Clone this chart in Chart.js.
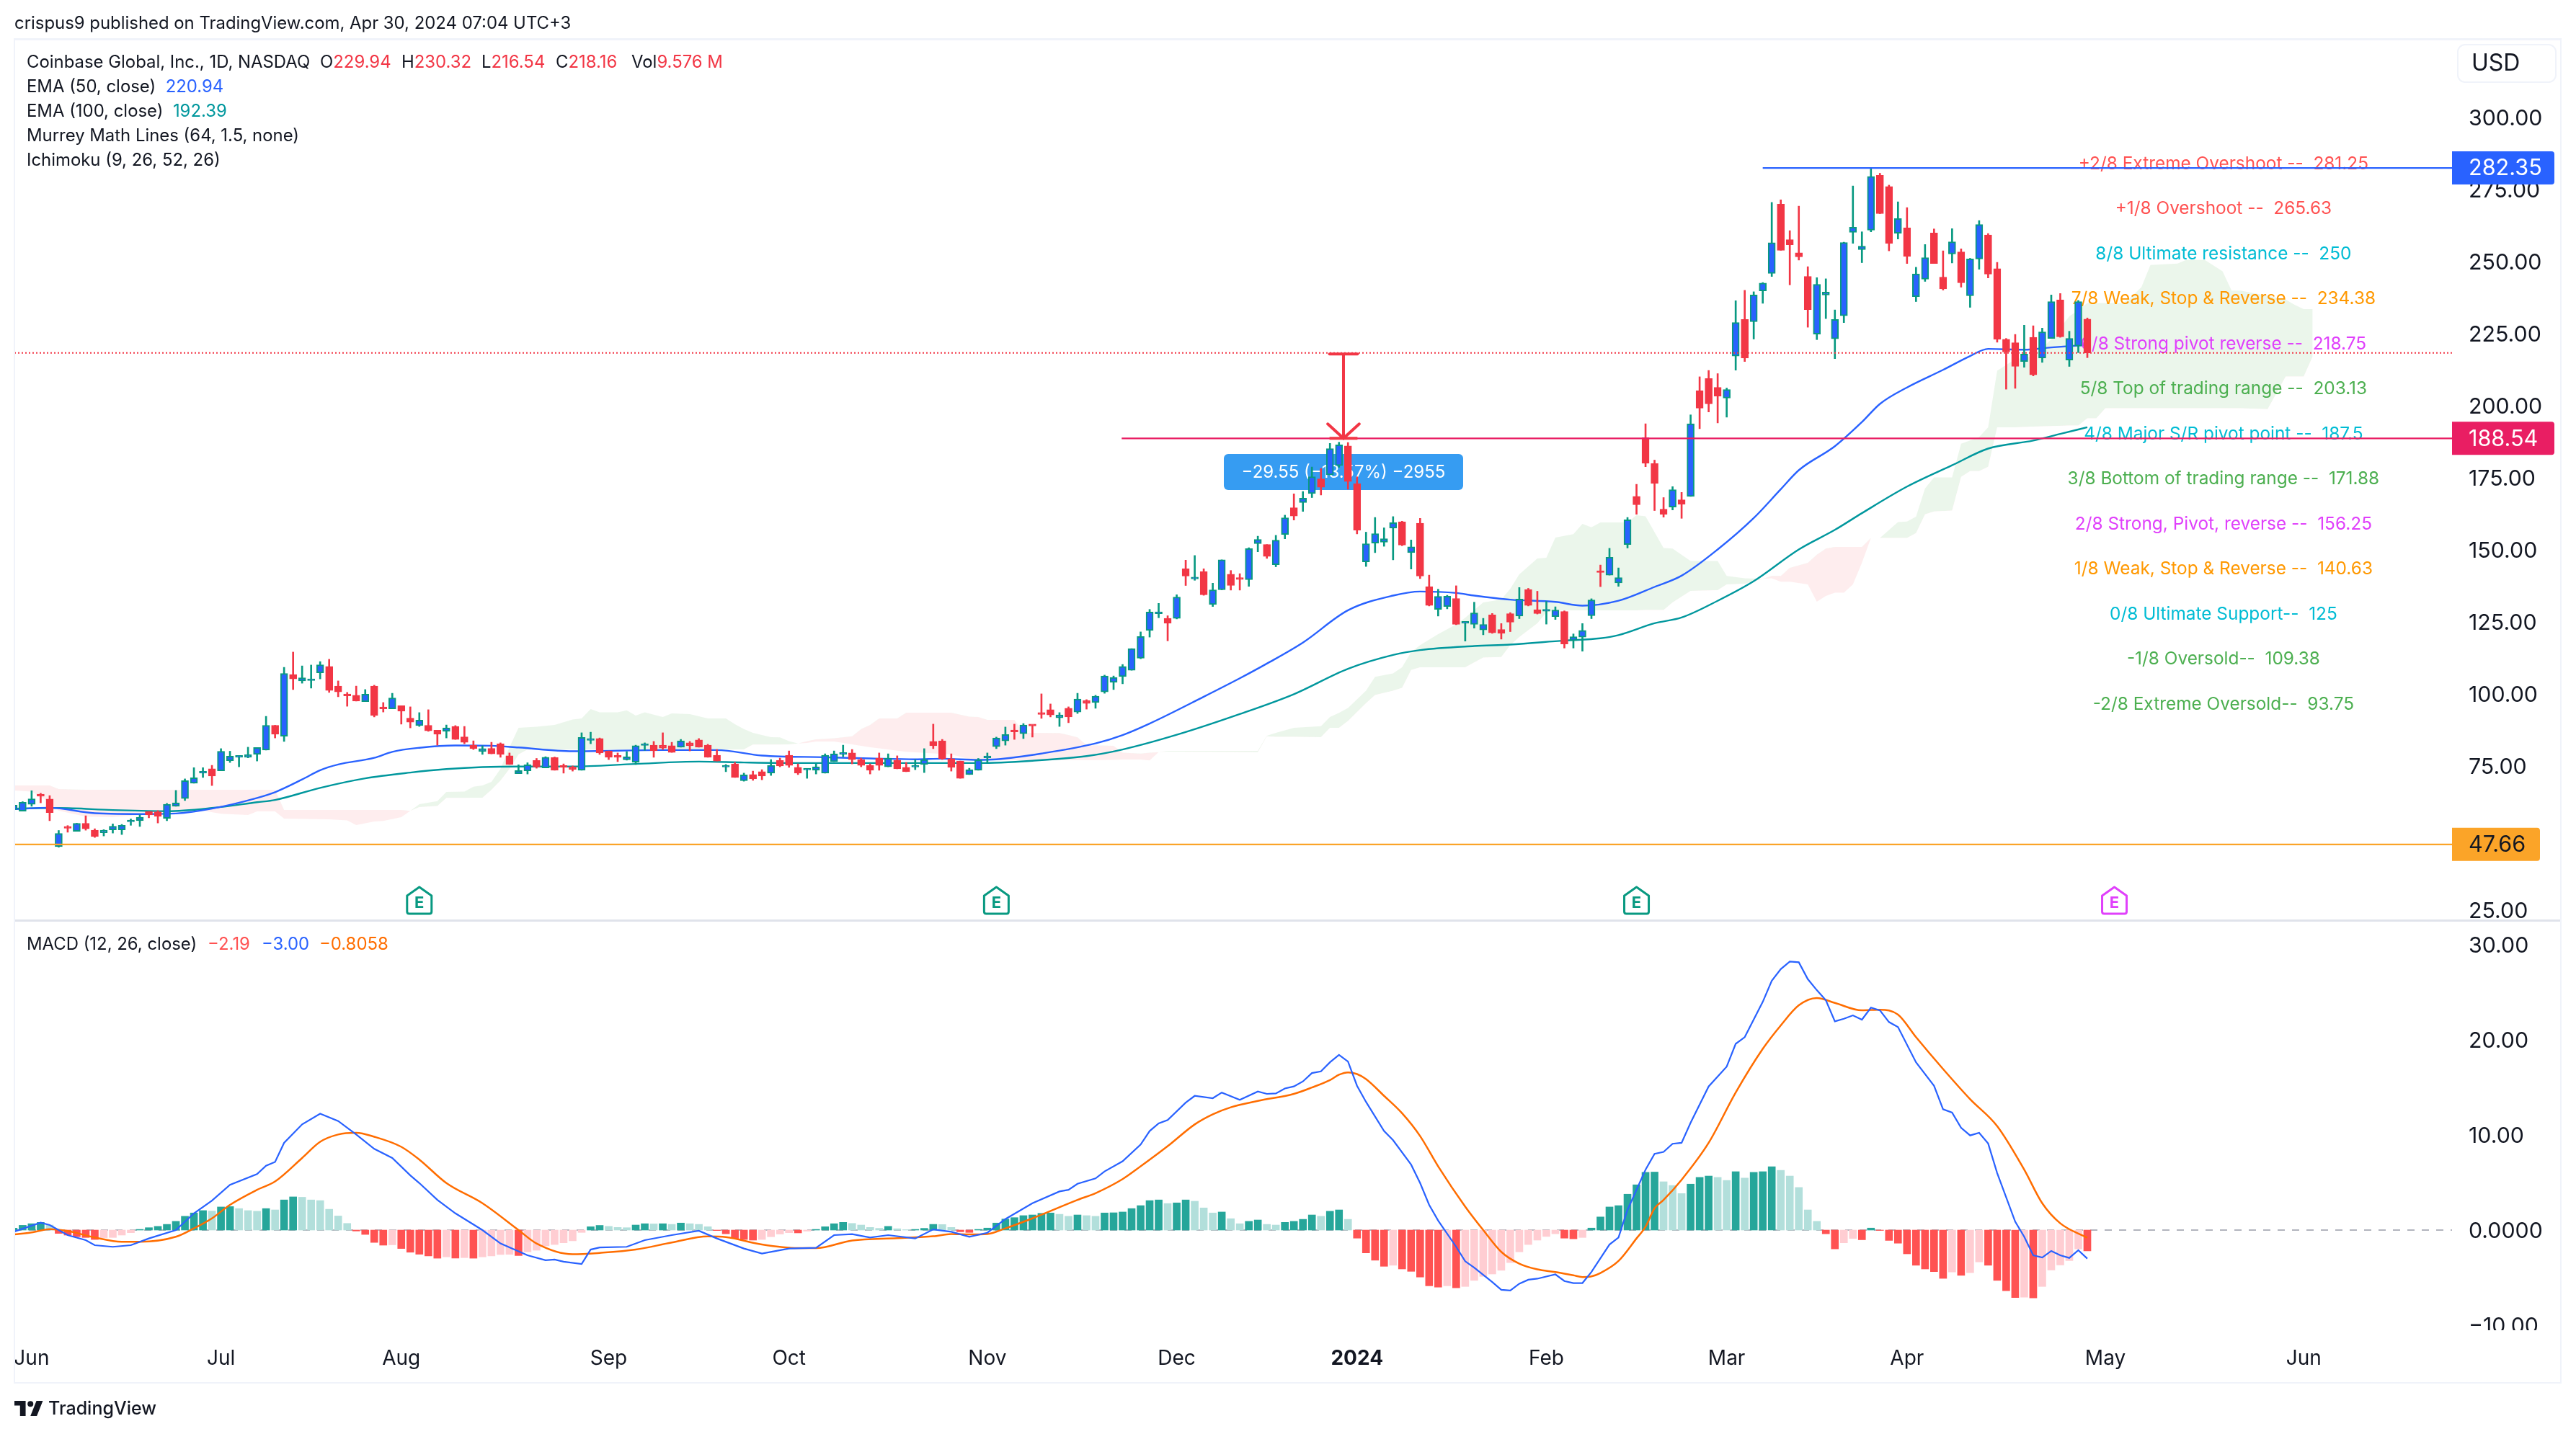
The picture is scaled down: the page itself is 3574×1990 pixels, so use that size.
<!DOCTYPE html>
<html><head><meta charset="utf-8">
<script src="https://cdn.jsdelivr.net/npm/chart.js@4"></script>
<style>
html,body{margin:0;padding:0;background:#fff;width:3574px;height:1990px;overflow:hidden}
body{position:relative;font-family:Inter,"Liberation Sans",sans-serif;color:#131722}
canvas{position:absolute;left:0}
.t{position:absolute;white-space:pre;font-size:23.9px;line-height:30px;z-index:5}
.r{position:absolute;z-index:4}
</style></head><body>
<canvas id="main" width="3574" height="1278" style="top:0"></canvas>
<canvas id="osc" width="3574" height="712" style="top:1278px"></canvas>
<div class="r" style="left:20px;top:53px;width:3534px;height:3px;background:#F0F3FA"></div>
<div class="r" style="left:20px;top:1276px;width:3534px;height:3px;background:#E0E3EB"></div>
<div class="r" style="left:20px;top:1918px;width:3534px;height:2px;background:#F0F3FA"></div>
<div class="r" style="left:19px;top:53px;width:2px;height:1867px;background:#F0F3FA"></div>
<div class="r" style="left:3552px;top:53px;width:2px;height:1867px;background:#F0F3FA"></div>
<div class="r" style="left:3404px;top:1846px;width:146px;height:16px;background:#fff"></div>

<div class="t" style="left:20px;top:17px">crispus9 published on TradingView.com, Apr 30, 2024 07:04 UTC+3</div>
<div class="t" style="left:37px;top:71px">Coinbase Global, Inc., 1D, NASDAQ</div>
<div class="t" style="left:444px;top:71px">O<span style="color:#F23645">229.94</span></div>
<div class="t" style="left:557px;top:71px">H<span style="color:#F23645">230.32</span></div>
<div class="t" style="left:668px;top:71px">L<span style="color:#F23645">216.54</span></div>
<div class="t" style="left:771px;top:71px">C<span style="color:#F23645">218.16</span></div>
<div class="t" style="left:876px;top:71px">Vol<span style="color:#F23645">9.576 M</span></div>
<div class="t" style="left:37px;top:105px">EMA (50, close)  <span style="color:#2962FF">220.94</span></div>
<div class="t" style="left:37px;top:139px">EMA (100, close)  <span style="color:#00979D">192.39</span></div>
<div class="t" style="left:37px;top:173px">Murrey Math Lines (64, 1.5, none)</div>
<div class="t" style="left:37px;top:207px">Ichimoku (9, 26, 52, 26)</div>
<div class="t" style="left:37px;top:1295px">MACD (12, 26, close)</div>
<div class="t" style="left:288px;top:1295px;color:#FF5252">−2.19</div>
<div class="t" style="left:363px;top:1295px;color:#2962FF">−3.00</div>
<div class="t" style="left:443px;top:1295px;color:#FF6D00">−0.8058</div>
<svg style="position:absolute;left:20px;top:1942px" width="40" height="26" viewBox="0 0 36 22"><path fill="#131722" d="M14 20H7V7H0V1h14v19zM28 20h-8l7.5-19h8L28 20z"/><circle cx="20" cy="5" r="3.6" fill="#131722"/></svg>
<div class="t" style="left:67px;top:1939px;font-weight:500;font-size:25px">TradingView</div>

<script>
/* candles: one value per trading day */
const opens=[59.8,59.2,61.6,65.1,63.4,46.9,53.7,52.2,55.0,52.6,
51.7,52.7,52.7,55.5,55.9,59.1,59.0,56.7,60.9,63.6,
68.9,72.4,73.9,73.2,76.7,77.9,77.9,78.9,80.4,89.0,
85.2,106.6,104.4,104.5,107.2,109.4,102.6,99.5,99.4,97.2,
102.6,95.1,94.7,95.8,91.5,88.9,89.0,87.3,86.9,88.6,
85.0,82.1,79.9,81.0,82.6,78.4,72.2,73.2,76.8,74.2,
77.8,74.6,74.6,73.4,83.8,84.4,80.1,78.3,77.0,76.2,
82.0,82.1,82.1,81.9,81.4,82.9,83.9,82.1,78.6,74.5,
75.6,69.8,71.9,72.9,72.4,76.8,78.6,74.4,73.5,73.4,
72.4,76.4,78.9,79.4,77.1,75.1,77.6,74.6,76.9,74.4,
74.5,75.4,83.4,83.6,77.4,76.6,71.9,73.4,77.7,81.6,
83.6,87.0,86.1,89.0,93.1,94.4,91.6,94.9,93.6,97.6,
96.9,100.6,103.9,105.9,108.1,112.3,121.9,127.7,126.1,126.1,
143.3,139.8,142.3,130.9,136.0,141.4,140.0,139.5,152.0,151.7,
144.7,155.2,164.5,166.3,169.4,174.5,175.9,179.1,185.9,172.8,
145.7,152.2,152.5,157.4,159.6,148.9,159.1,137.1,129.2,130.2,
133.0,124.4,124.0,122.1,127.3,122.2,127.7,126.9,136.1,129.1,
128.6,126.7,128.5,118.4,119.6,127.0,142.3,141.1,138.4,151.7,
168.4,188.8,179.8,164.0,164.7,167.2,168.4,205.1,209.3,206.2,
202.5,217.1,229.8,229.0,239.7,245.8,269.8,257.5,252.9,244.7,
224.7,238.3,223.1,231.1,260.0,254.0,260.8,279.8,275.9,259.7,
261.6,237.7,243.8,259.8,244.5,252.5,253.2,238.0,250.8,259.1,
247.4,222.9,221.7,215.2,223.6,216.4,223.2,236.6,215.7,220.6,
229.94];
const highs=[61.3,62.5,66.3,65.4,64.6,52.5,54.2,55.0,57.6,53.1,
52.8,54.8,54.6,56.5,57.9,59.1,59.4,61.9,66.4,70.4,
74.3,74.3,75.1,80.9,80.0,78.4,81.4,81.3,92.1,89.0,
109.1,114.4,109.6,109.9,111.1,111.9,104.4,100.4,102.6,101.4,
102.9,96.9,100.1,95.8,95.4,93.4,94.4,87.3,89.1,88.9,
88.6,83.6,81.9,83.1,82.9,79.4,75.3,76.0,77.5,78.1,
78.0,75.6,74.9,86.4,86.6,84.6,80.1,79.4,79.9,82.1,
82.9,83.4,86.4,83.1,84.1,83.4,84.4,82.4,80.6,75.4,
76.1,72.4,73.1,73.6,77.1,77.6,80.1,75.6,73.9,75.6,
79.1,80.1,82.1,80.6,77.6,75.6,79.4,79.1,78.4,76.1,
77.1,80.9,89.4,84.1,79.1,76.6,74.1,77.5,79.4,84.9,
88.4,89.4,89.6,89.0,99.9,96.4,93.4,95.4,100.1,97.9,
99.4,106.4,106.1,110.1,115.6,121.4,129.2,131.3,127.0,134.3,
146.3,147.9,143.3,138.3,146.4,142.7,141.6,150.6,154.6,151.7,
154.9,161.9,169.3,170.1,178.6,178.1,186.8,187.2,187.1,175.2,
156.0,161.1,157.5,161.4,159.8,153.3,160.8,141.1,136.2,134.1,
137.4,124.7,131.7,126.1,127.8,124.3,128.1,136.8,136.5,135.5,
132.0,130.1,128.7,120.7,124.3,132.9,144.6,150.4,143.6,161.1,
172.6,193.6,181.0,168.0,171.8,169.8,196.7,209.9,212.1,211.0,
206.0,236.3,239.9,239.4,242.6,270.4,271.3,260.6,269.1,248.1,
244.3,243.9,233.1,256.6,276.1,260.2,282.35,280.5,276.4,270.6,
268.6,247.9,255.8,261.2,253.6,261.3,254.3,251.0,264.1,259.6,
249.6,223.2,224.6,227.8,227.6,226.8,238.3,238.8,225.7,236.4,
230.32];
const lows=[59.8,59.2,60.9,62.1,55.9,46.7,51.9,52.2,52.6,50.1,
50.6,51.6,51.1,54.3,53.9,56.9,55.1,55.9,60.9,62.9,
68.9,70.9,68.1,73.2,76.1,74.6,77.7,76.6,80.4,84.6,
83.4,101.4,103.6,101.9,105.1,100.4,98.9,95.6,97.4,97.2,
91.9,93.6,94.7,89.4,88.1,88.6,86.9,82.1,84.6,84.1,
82.6,80.6,78.9,79.1,77.9,75.4,72.2,72.1,74.1,74.2,
73.4,72.4,73.1,73.4,82.6,78.9,77.1,76.4,76.9,75.4,
80.3,77.9,80.6,79.6,81.4,80.1,81.4,77.9,76.6,72.9,
70.9,69.6,69.9,70.1,71.6,74.6,74.4,71.9,70.6,72.1,
72.4,76.4,78.1,75.6,74.6,72.1,73.4,74.6,73.9,72.9,
73.6,72.6,80.9,77.1,73.1,70.6,71.9,73.4,75.9,80.9,
82.1,84.1,84.4,84.9,91.4,91.9,88.6,89.9,93.1,94.6,
94.9,100.1,101.4,103.4,108.1,112.1,119.6,126.3,118.3,125.9,
137.5,139.3,134.1,130.2,136.0,135.9,135.9,137.2,149.2,146.9,
144.0,153.7,160.2,163.2,168.0,168.9,175.9,178.5,170.9,155.4,
144.1,148.9,151.1,146.4,151.3,143.2,139.9,130.4,126.9,129.4,
123.9,118.2,122.7,120.4,120.9,118.9,121.5,126.0,130.4,127.6,
124.1,125.7,115.8,115.8,114.7,126.0,137.1,141.1,137.2,150.5,
162.2,178.7,163.5,161.2,163.7,160.8,168.4,191.9,197.7,193.9,
195.9,212.2,215.2,223.0,235.4,244.7,253.8,241.8,250.4,227.1,
222.8,230.1,216.2,228.7,256.2,249.5,260.2,266.5,253.6,257.7,
249.2,236.0,243.0,249.2,240.0,249.4,241.0,234.0,247.2,244.2,
221.9,205.6,205.9,213.2,210.2,214.9,223.2,223.6,213.5,218.3,
216.54];
const closes=[61.3,62.3,63.5,64.4,58.7,51.5,53.3,55.0,53.1,50.4,
52.6,54.0,54.3,55.9,57.1,57.9,57.4,61.6,62.1,69.8,
70.8,72.9,71.4,80.0,78.3,78.4,78.8,81.3,89.0,85.9,
107.0,105.1,105.5,104.9,110.0,101.1,100.6,99.2,97.4,99.8,
92.4,94.7,98.5,93.9,90.1,90.8,87.1,85.9,88.1,84.1,
83.1,80.9,80.9,79.1,78.9,75.4,73.3,75.3,74.5,77.9,
73.4,74.4,73.7,84.8,84.1,79.4,77.9,77.9,78.1,81.9,
82.4,80.2,81.1,79.6,83.6,81.9,81.4,77.9,76.6,74.9,
70.9,71.8,70.4,71.4,75.1,74.9,75.1,72.4,73.8,74.6,
78.6,79.1,79.5,77.1,75.1,73.4,75.1,77.6,73.9,72.9,
74.9,77.1,81.9,77.4,74.4,70.6,73.6,77.0,78.0,84.6,
85.8,86.7,89.1,88.8,92.8,92.6,92.6,91.9,98.1,96.6,
99.1,106.1,105.6,109.4,115.6,119.8,128.3,128.1,124.4,133.5,
140.8,140.2,134.3,136.0,146.4,137.5,139.6,150.3,153.5,147.6,
153.2,161.0,161.6,167.8,175.2,171.6,185.0,186.3,173.6,156.7,
152.0,155.5,153.7,159.3,151.5,150.9,140.8,130.6,133.7,133.8,
124.0,124.7,128.0,124.0,121.1,120.9,124.8,132.8,130.6,127.8,
128.9,129.0,117.2,119.7,121.9,132.5,142.0,147.3,140.2,160.3,
165.5,179.9,172.9,162.2,170.7,165.7,193.6,199.0,200.5,203.2,
205.5,228.7,216.4,238.3,242.4,256.4,253.8,255.7,251.5,233.2,
242.0,239.3,229.8,256.5,261.8,255.2,279.4,266.5,256.2,264.8,
251.7,245.6,251.2,249.2,240.4,256.7,242.5,250.8,262.7,245.5,
222.9,218.5,213.5,217.8,210.6,225.5,236.0,223.8,223.2,236.0,
218.16];

/* indicators: [bar number, value] read at the visible turning points */
const ema50=[[0,59.9],[4,60.4],[9,58.5],[15,58.2],[18,58.4],[22,60.1],[27,63.8],[29,65.8],[32,70.2],[34,73.4],[36,75.4],[40,77.7],[42,79.8],[45,81.2],[49,82.0],[53,81.9],[56,81.3],[62,80.0],[72,80.4],[78,80.4],[83,78.5],[90,77.9],[95,77.5],[100,77.2],[103,77.4],[107,77.0],[109,77.2],[114,79.2],[120,82.7],[123,85.6],[126,89.6],[132,98.9],[136,105.3],[139,110.4],[143,117.7],[148,128.9],[153,134.0],[156,135.4],[160,134.9],[162,134.0],[166,132.6],[171,131.8],[174,130.5],[178,132.2],[182,137.0],[185,140.9],[189,150.0],[193,160.9],[196,170.9],[198,177.5],[202,185.8],[205,194.2],[207,200.5],[210,206.2],[214,212.3],[217,217.1],[219,219.6],[223,219.3],[226,220.1],[230,220.94]];
const ema100=[[0,60.1],[5,60.3],[11,59.6],[17,59.2],[22,60.3],[27,62.3],[29,63.1],[34,67.3],[39,70.6],[44,72.6],[48,73.8],[52,74.5],[56,74.7],[62,74.7],[69,75.6],[76,76.4],[81,76.1],[87,75.9],[99,75.9],[107,75.9],[113,76.7],[119,78.3],[123,80.6],[129,85.7],[136,92.9],[142,99.8],[148,108.6],[153,113.4],[156,115.1],[162,116.5],[166,117.0],[172,118.4],[176,119.2],[178,120.3],[182,124.4],[185,126.4],[189,132.2],[193,139.0],[198,150.0],[202,156.8],[205,162.6],[210,171.8],[215,179.2],[219,185.0],[224,187.8],[227,190.1],[230,192.39]];
/* Ichimoku cloud: [bar number, leading span A, leading span B] */
const cloud=[[0,66.4,68.1],[2,66.0,68.1],[4,62.3,68.1],[5,59.4,66.9],[8,57.3,66.6],[11,57.1,66.6],[14,57.9,66.6],[18,58.9,66.6],[21,59.4,66.6],[23,58.3,66.6],[26,57.9,66.6],[27,59.1,66.6],[29,59.1,66.6],[30,56.6,59.6],[35,56.4,59.6],[37,56.0,59.6],[38,54.4,59.6],[40,55.6,59.6],[41,55.8,59.6],[43,57.1,59.6],[44,59.3,59.3],
[45,61.6,60.6],[47,62.7,61.0],[48,65.9,63.8],[50,66.0,63.8],[51,67.7,63.9],[52,68.1,63.9],[53,69.4,66.6],[54,73.9,69.8],[55,81.4,73.9],[56,88.1,78.9],[57,88.3,80.6],[58,88.5,80.6],[60,89.1,80.6],[62,91.0,80.6],[63,91.4,80.6],[64,94.6,80.6],[65,93.5,80.6],[67,93.5,80.6],[68,94.2,80.6],[69,92.4,80.6],[70,93.5,80.6],[72,91.9,80.6],[73,93.1,80.6],[75,92.9,80.6],[77,91.4,80.6],[79,91.4,80.6],[80,89.4,80.6],[81,87.7,80.6],[82,86.4,82.3],[84,84.9,82.3],[85,84.8,82.3],[86,83.5,82.4],[87,82.7,82.7],
[88,82.9,83.5],[89,83.4,84.1],[91,83.4,84.5],[93,82.4,85.2],[94,81.9,87.7],[95,81.4,89.1],[96,81.0,91.4],[98,80.2,91.4],[99,79.8,93.4],[104,78.9,93.4],[106,77.3,92.0],[107,77.0,91.9],[108,76.9,90.9],[111,76.9,90.9],[112,76.9,86.4],[116,76.9,86.3],[117,76.9,85.6],[118,76.9,84.8],[119,76.9,82.1],[122,77.0,81.9],[123,77.1,79.5],[125,77.1,79.2],[126,76.8,79.5],[127,79.7,79.7],
[128,80.1,79.9],[138,80.1,79.7],[139,85.4,85.2],[140,86.4,85.0],[142,88.1,85.0],[145,88.7,84.9],[146,91.9,88.1],[147,93.3,88.1],[148,95.0,90.5],[150,101.0,96.7],[151,105.8,99.5],[153,107.0,101.0],[154,109.1,102.0],[155,114.4,108.2],[156,116.8,109.1],[158,120.6,109.1],[160,124.0,109.1],[161,126.3,109.1],[163,131.6,112.5],[165,132.6,112.7],[166,136.4,116.8],[167,141.4,119.6],[169,146.9,124.4],[170,147.1,128.2],[171,154.1,128.9],[173,155.3,128.9],[174,158.9,128.9],[175,157.7,128.9],[176,159.4,128.9],[179,159.4,128.9],[180,161.9,128.9],[181,161.5,129.0],[183,150.5,129.0],[184,150.3,131.6],[186,146.0,135.6],[189,146.0,135.9],[190,140.8,137.9],[192,140.0,138.1],[194,139.8,139.8],
[195,140.0,140.8],[196,138.8,140.8],[197,138.8,143.6],[199,137.9,145.4],[200,131.9,148.2],[201,133.9,150.3],[202,135.0,150.9],[203,135.0,150.9],[204,137.9,150.9],[205,145.4,150.9],[206,154.0,154.0],
[207,154.0,154.0],[209,159.5,154.0],[210,159.7,154.0],[211,161.4,155.7],[212,171.2,162.2],[213,175.0,163.2],[215,175.0,163.5],[216,186.7,175.2],[217,187.8,177.2],[218,189.0,177.2],[219,192.4,178.7],[220,212.0,192.4],[222,216.0,192.4],[224,217.0,192.6],[226,222.9,192.8],[228,230.9,193.0],[229,233.0,193.0],[230,235.5,195.5],[231,235.5,195.5],[232,235.5,199.0],[234,235.5,199.0],[235,238.0,199.0],[236,241.0,199.0],[237,248.7,199.0],[240,249.2,199.0],[241,250.5,199.0],[243,250.5,199.0],[245,246.5,199.0],[246,239.8,199.0],[247,239.8,199.0],[250,238.0,198.7],[252,236.7,210.0],[253,234.9,210.0],[254,233.4,210.0],[255,233.4,217.0]];

const macdHist=[.2,.5,.67,.81,.53,-.35,-.53,-.7,-.78,-.99,
-.8,-.78,-.53,-.28,.07,.25,.39,.6,.92,1.45,
1.8,2.05,2.0,2.43,2.47,2.26,2.05,1.98,2.26,2.12,
3.17,3.49,3.45,3.17,3.1,2.19,1.48,.7,-.1,-.46,
-1.3,-1.59,-1.55,-1.94,-2.33,-2.54,-2.72,-2.96,-2.82,-2.95,
-2.9,-2.96,-2.82,-2.72,-2.57,-2.55,-2.68,-2.29,-2.12,-1.66,
-1.52,-1.34,-1.13,-.25,.35,.49,.39,.28,.25,.53,
.67,.65,.67,.6,.74,.67,.6,.35,-.05,-.39,
-.88,-.99,-1.06,-.99,-.7,-.42,-.28,-.3,-.11,.07,
.35,.67,.81,.7,.53,.28,.18,.39,.14,.04,
.07,.18,.6,.58,.28,-.18,-.25,.07,.21,.74,
1.16,1.31,1.52,1.59,1.76,1.8,1.66,1.45,1.59,1.52,
1.45,1.8,1.82,1.9,2.26,2.57,3.1,3.17,2.79,2.86,
3.17,3.03,2.33,1.8,1.9,1.2,.67,.92,1.06,.6,
.53,.81,.92,1.13,1.59,1.45,1.98,2.12,1.13,-.85,
-2.4,-3.17,-3.81,-3.7,-4.09,-4.34,-4.94,-5.86,-6,-5.86,
-6.07,-5.93,-5.29,-4.87,-4.62,-4.23,-3.42,-2.29,-1.52,-1.06,
-.67,-.39,-.85,-.92,-.78,.21,1.38,2.43,2.57,3.77,
4.76,6.07,6.1,5.08,4.69,3.84,4.83,5.54,5.68,5.54,
5.22,6.14,5.47,6.07,6.14,6.67,6.28,5.68,4.48,2.12,
.92,-.39,-1.98,-1.34,-.88,-1.02,.21,-.04,-1.09,-1.38,
-2.5,-3.7,-4.09,-4.37,-5.08,-4.41,-4.76,-4.48,-3.35,-3.7,
-5.29,-6.38,-7.09,-7.05,-7.13,-5.93,-4.2,-3.67,-3.21,-1.98,
-2.19];
const macdLine=[[0,-.18],[3,.78],[4,.53],[6,-.53],[8,-1.06],[9,-1.59],[11,-1.76],[13,-1.59],[15,-.88],[18,0],[20,1.76],[22,3.1],[24,4.76],[27,5.89],[28,6.77],[29,7.16],[30,9.17],[32,11.11],[34,12.24],[36,11.46],[38,10.05],[40,8.54],[42,7.58],[44,5.75],[45,4.94],[47,3.17],[49,1.76],[52,0],[54,-1.41],[57,-2.65],[59,-3.17],[60,-3.1],[61,-3.32],[63,-3.56],[64,-2.05],[65,-1.83],[68,-1.76],[70,-1.06],[73,-.53],[76,-.07],[78,-.88],[81,-1.94],[83,-2.47],[86,-1.94],[89,-1.87],[91,-.53],[93,-.42],[95,-.78],[97,-.53],[100,-.88],[102,.07],[104,-.18],[106,-.7],[108,-.28],[110,1.16],[113,2.82],[116,4.06],[117,4.23],[118,4.87],[120,5.43],[121,6.17],[123,7.23],[125,8.99],[126,10.41],[127,11.22],[128,11.57],[130,13.4],[131,14.11],[133,13.86],[134,14.46],[136,13.69],[138,14.57],[139,14.32],[140,14.36],[141,14.89],[142,15.1],[143,15.63],[144,16.51],[145,16.68],[146,17.64],[147,18.41],[148,17.71],[149,15.17],[150,13.47],[152,10.41],[153,9.45],[155,6.88],[156,4.94],[157,2.65],[158,1],[160,-1.76],[161,-3.28],[162,-3.95],[164,-5.47],[165,-6.28],[166,-6.35],[167,-5.64],[168,-5.22],[169,-5.11],[171,-4.66],[172,-5.36],[173,-5.57],[174,-5.57],[175,-4.41],[177,-1.52],[178,-.78],[179,2.12],[181,6.35],[182,8.01],[183,8.22],[184,9.07],[185,9.17],[186,11.29],[188,15.1],[190,17.18],[191,19.58],[192,20.28],[194,23.99],[195,26.21],[196,27.44],[197,28.22],[198,28.15],[199,26.38],[200,25.22],[201,24.16],[202,21.94],[203,22.22],[204,22.57],[205,22.12],[206,23.39],[207,23.1],[208,21.87],[209,21.34],[211,17.64],[213,15.17],[214,12.7],[215,12.35],[216,10.76],[217,9.95],[218,10.23],[219,9.1],[220,6],[222,.88],[223,-.7],[224,-2.65],[225,-2.89],[226,-2.19],[227,-2.65],[228,-2.93],[229,-2.12],[230,-3.0]];
const signalLine=[[0,-.46],[2,-.25],[4,.1],[6,-.1],[9,-.78],[12,-1.23],[14,-1.23],[18,-.7],[20,.18],[22,1.23],[24,2.65],[27,4.23],[29,5.11],[32,7.58],[34,9.28],[36,10.05],[38,10.23],[40,9.81],[43,8.75],[45,7.41],[48,4.94],[52,2.82],[56,0],[58,-1.41],[62,-2.54],[65,-2.4],[69,-2.05],[73,-1.31],[77,-.67],[79,-.74],[83,-1.52],[87,-1.9],[89,-1.9],[93,-1.09],[98,-.85],[102,-.65],[104,-.42],[106,-.46],[108,-.42],[110,.18],[113,1.23],[118,3.17],[120,3.88],[123,5.36],[125,6.7],[128,8.82],[131,11.11],[133,12.17],[135,12.91],[138,13.58],[142,14.32],[144,14.99],[146,15.77],[147,16.33],[148,16.58],[149,16.4],[150,15.87],[152,14.11],[154,12.28],[156,9.88],[158,6.7],[161,2.47],[163,0],[165,-2.29],[167,-3.53],[169,-4.13],[171,-4.41],[173,-4.76],[174,-4.94],[175,-4.87],[176,-4.51],[178,-3.25],[180,-.88],[181,.35],[182,2.29],[183,3.17],[185,5.29],[188,9.17],[191,14.46],[194,19.05],[196,21.52],[198,23.63],[200,24.4],[202,23.88],[205,23.1],[207,23.17],[209,22.65],[211,20.28],[214,16.93],[217,13.76],[220,10.93],[223,6.35],[225,2.82],[227,.71],[230,-.81]];

/* axes and labels */
const priceTicks=[25,50,75,100,125,150,175,200,225,250,275,300];
const hiddenPriceTicks=[50];
const macdTicks=[-10,0,10,20,30];
const monthBars=[2,23,43,66,86,108,129,149,170,190,210,232,254];
const monthNames=["Jun","Jul","Aug","Sep","Oct","Nov","Dec","2024","Feb","Mar","Apr","May","Jun"];
const murreyLevels=[281.25,265.63,250,234.38,218.75,203.13,187.5,171.88,156.25,140.63,125,109.38,93.75];
const murreyTexts=["+2/8 Extreme Overshoot --  281.25","+1/8 Overshoot --  265.63","8/8 Ultimate resistance --  250","7/8 Weak, Stop & Reverse --  234.38","6/8 Strong pivot reverse --  218.75","5/8 Top of trading range --  203.13","4/8 Major S/R pivot point --  187.5","3/8 Bottom of trading range --  171.88","2/8 Strong, Pivot, reverse --  156.25","1/8 Weak, Stop & Reverse --  140.63","0/8 Ultimate Support--  125","-1/8 Oversold--  109.38","-2/8 Extreme Oversold--  93.75"];
const lastClose=218.16, highLevel=282.35, pivotLevel=188.54, lowLevel=47.66;
const earningsBars=[45,109,180,233];
const measureBar=147.5, measureTop=217.8, measureBottom=188.54;
const measureText="−29.55 (−13.57%) −2955";

/* view and style */
const xMin=.09, xMax=270.45;
const FONT='Inter, "Liberation Sans", sans-serif';
const UP='#089981', UPFILL='#2962FF', DOWN='#F23645';
const murreyColors=['#FF5252','#FF5252','#00BCD4','#FF9800','#E040FB','#4CAF50','#00BCD4','#4CAF50','#E040FB','#FF9800','#00BCD4','#4CAF50','#4CAF50'];
const xy=a=>a.map(p=>({x:p[0],y:p[1]}));
const bars=closes.map((c,i)=>i);
const line=(data,color,width,extra)=>Object.assign({type:'line',data,borderColor:color,borderWidth:width,pointRadius:0,fill:false,tension:0},extra||{});
const upOf=i=>closes[i]>=opens[i];

const cloudA=cloud.map(r=>({x:r[0],y:r[1]})), cloudB=cloud.map(r=>({x:r[0],y:r[2]}));
const IDX_WICK=4;
const mainSets=[
 line(cloudA,'rgba(0,0,0,0)',0,{order:100,fill:{target:1,above:'rgba(76,175,80,.115)',below:'rgba(242,54,69,.09)'}}),
 line(cloudB,'rgba(0,0,0,0)',0,{order:101}),
 line(xy(ema100),'#00979D',2.4,{order:91,cubicInterpolationMode:'monotone'}),
 line(xy(ema50),'#2962FF',2.4,{order:90,cubicInterpolationMode:'monotone'}),
 {type:'bar',order:80,grouped:false,barThickness:2,data:bars.map(i=>({x:i,y:[lows[i],highs[i]]})),
  backgroundColor:bars.map(i=>upOf(i)?UP:DOWN),borderWidth:0},
 {type:'bar',order:79,grouped:false,barThickness:10,minBarLength:2.5,data:bars.map(i=>({x:i,y:[opens[i],closes[i]]})),
  backgroundColor:bars.map(i=>upOf(i)?UPFILL:DOWN),borderColor:bars.map(i=>upOf(i)?UP:DOWN),borderWidth:2,borderSkipped:false},
 line([{x:xMin,y:lowLevel},{x:xMax,y:lowLevel}],'#FBA428',2.4,{order:60}),
 line([{x:xMin,y:lastClose},{x:xMax,y:lastClose}],DOWN,2,{order:60,borderDash:[2,3]}),
 line([{x:122.9,y:pivotLevel},{x:xMax,y:pivotLevel}],'#E91E63',2.4,{order:60}),
 line([{x:194,y:highLevel},{x:xMax,y:highLevel}],'#2962FF',2.4,{order:60}),
 line([{x:measureBar,y:measureTop},{x:measureBar,y:measureBottom}],DOWN,4,{order:50}),
 line([{x:measureBar-1.55,y:measureTop},{x:measureBar+1.55,y:measureTop}],DOWN,4,{order:50,borderCapStyle:'round'}),
 line([{x:measureBar-1.55,y:measureBottom},{x:measureBar+1.55,y:measureBottom}],DOWN,4,{order:50}),
 line([{x:measureBar-1.75,y:measureBottom+5},{x:measureBar,y:measureBottom},{x:measureBar+1.75,y:measureBottom+5}],DOWN,4,{order:50,borderCapStyle:'round'})
];

function roundRect(c,x,y,w,h,r){c.beginPath();c.roundRect(x,y,w,h,r);}
const underCandles={id:'underCandles',beforeDatasetDraw(chart,args){
  if(args.index!==IDX_WICK) return;
  const c=chart.ctx,{x,y}=chart.scales;
  c.save();
  c.font='24.4px '+FONT;c.textAlign='center';c.textBaseline='middle';
  murreyLevels.forEach((v,i)=>{c.fillStyle=murreyColors[i];c.fillText(murreyTexts[i],x.getPixelForValue(245.1),y.getPixelForValue(v)-10);});
  const cx=x.getPixelForValue(measureBar),cy=y.getPixelForValue(176.9);
  c.fillStyle='#369CF2';roundRect(c,cx-166,cy-25,332,50,6);c.fill();
  c.fillStyle='#fff';c.font='24px '+FONT;c.fillText(measureText,cx,cy+1);
  c.restore();
}};
const overlay={id:'overlay',afterDraw(chart){
  const c=chart.ctx,{x,y}=chart.scales,L=chart.chartArea.right;
  c.save();
  earningsBars.forEach((b,i)=>{
    const cx=x.getPixelForValue(b),col=i===3?'#E040FB':UP,t=1231,bot=1268,hw=17;
    c.strokeStyle=col;c.lineWidth=3;c.lineJoin='round';
    c.beginPath();c.moveTo(cx,t);c.lineTo(cx+hw,t+12);c.lineTo(cx+hw,bot-3);c.quadraticCurveTo(cx+hw,bot,cx+hw-3,bot);
    c.lineTo(cx-hw+3,bot);c.quadraticCurveTo(cx-hw,bot,cx-hw,bot-3);c.lineTo(cx-hw,t+12);c.closePath();c.stroke();
    c.fillStyle=col;c.font='bold 22px '+FONT;c.textAlign='center';c.textBaseline='middle';c.fillText('E',cx,t+22);
  });
  [[highLevel,'#2962FF','#fff',142],[pivotLevel,'#E91E63','#fff',142],[lowLevel,'#FBA428','#131722',122]].forEach(b=>{
    const py=y.getPixelForValue(b[0]);
    c.fillStyle=b[1];roundRect(c,L,py-23,b[3],46,[0,4,4,0]);c.fill();
    c.fillStyle=b[2];c.font='30.6px '+FONT;c.textAlign='left';c.textBaseline='middle';c.fillText(b[0].toFixed(2),L+23,py+1);
  });
  c.restore();
}};
const usd={id:'usd',afterDraw(chart){const c=chart.ctx;c.save();
  c.strokeStyle='#F0F3FA';c.lineWidth=2;roundRect(c,3410,62,136,52,10);c.stroke();
  c.fillStyle='#131722';c.font='32px '+FONT;c.textAlign='left';c.textBaseline='middle';c.fillText('USD',3429,88);c.restore();}};

const common={responsive:false,animation:false,devicePixelRatio:1,events:[],
  plugins:{legend:{display:false},tooltip:{enabled:false}}};
const noPad=a=>{a.paddingTop=0;a.paddingBottom=0;a.paddingLeft=0;a.paddingRight=0;};
/* labels sit a touch lower in the reference than the canvas middle baseline */
const nudgeLabels=a=>{if(a._nudged)return;a._nudged=true;const d=a.drawLabels;
  a.drawLabels=function(ca){this.ctx.save();this.ctx.translate(0,2);d.call(this,ca);this.ctx.restore();};};
const yAxis=(min,max,ticks,cb)=>({type:'linear',position:'right',min,max,beginAtZero:false,grid:{display:false,drawTicks:false},border:{display:false},
  afterBuildTicks:a=>{a.ticks=ticks.map(v=>({value:v}));},afterFit:a=>{a.width=172;noPad(a);nudgeLabels(a);},
  ticks:{callback:cb,padding:23,color:'#131722',autoSkip:false,font:{family:FONT,size:30.3}}});

new Chart(document.getElementById('main'),{
  type:'bar',data:{datasets:mainSets},plugins:[underCandles,overlay,usd],
  options:Object.assign({},common,{layout:{padding:{left:20,top:54,right:0,bottom:1}},
    scales:{x:{type:'linear',min:xMin,max:xMax,offset:false,display:false,grid:{display:false}},
      y:yAxis(21.375,327.125,priceTicks,v=>hiddenPriceTicks.includes(v)?'':v.toFixed(2))}})
});

const histColor=macdHist.map((v,i)=>{const p=i?macdHist[i-1]:-99;return v>=0?(v>=p?'#26A69A':'#B2DFDB'):(v<p?'#FF5252':'#FFCDD2');});
new Chart(document.getElementById('osc'),{
  type:'bar',
  data:{datasets:[
    line([{x:xMin,y:0},{x:xMax,y:0}],'#B2B5BE',2,{order:30,borderDash:[10,10]}),
    {type:'bar',order:20,barThickness:10,data:macdHist.map((v,i)=>({x:i,y:v})),backgroundColor:histColor,borderWidth:0},
    line(xy(signalLine),'#FF6D00',2.5,{order:10,cubicInterpolationMode:'monotone'}),
    line(xy(macdLine),'#2962FF',2.2,{order:9})
  ]},
  options:Object.assign({},common,{layout:{padding:{left:20,top:0,right:0,bottom:0}},
    scales:{
      x:{type:'linear',min:xMin,max:xMax,offset:false,grid:{display:false,drawTicks:false},border:{display:false},
        afterBuildTicks:a=>{a.ticks=monthBars.map(v=>({value:v}));},afterFit:a=>{a.height=144;noPad(a);},
        ticks:{autoSkip:false,maxRotation:0,minRotation:0,padding:23,color:'#131722',
          callback:v=>monthNames[monthBars.indexOf(v)],
          font:c=>({family:FONT,size:28,weight:(c.tick&&c.tick.value===149)?'bold':'normal'})}},
      y:yAxis(-10.53,32.5,macdTicks,v=>v===0?'0.0000':(v<0?'−'+Math.abs(v).toFixed(2):v.toFixed(2)))}})
});
</script>
</body></html>
